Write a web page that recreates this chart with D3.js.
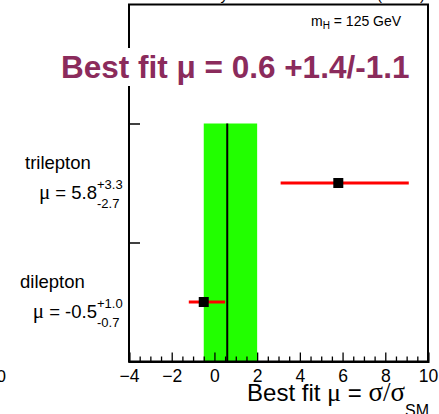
<!DOCTYPE html>
<html>
<head>
<meta charset="utf-8">
<script src="https://cdn.jsdelivr.net/npm/d3@7"></script>
<style>
  html, body { margin: 0; padding: 0; background: #fff; }
  svg { display: block; }
  text { font-family: "Liberation Sans", Arial, Helvetica, sans-serif; }
</style>
</head>
<body>
<svg id="chart" width="439" height="414"></svg>
<script>
// ---------------- data ----------------
const channels   = ["dilepton", "trilepton"];
const muValues   = [-0.5, 5.8];
const errUp      = [1.0, 3.3];
const errDown    = [0.7, 2.7];
const rowIndex   = [0.5, 1.5];           // row centre positions on the y scale
const bestFit    = 0.6;
const bestFitUp  = 1.4;
const bestFitDown= 1.1;
const xMajorTicks = [-4, -2, 0, 2, 4, 6, 8, 10];
const xMinorStep  = 0.5;
const yTicks      = [1, 2];
const titleText   = "Best fit \u03bc = 0.6 +1.4/-1.1";
const massLabel   = "125 GeV";

// ---------------- layout ----------------
const svg = d3.select("#chart");
const x = d3.scaleLinear().domain([-4, 10]).range([129, 428]);
const y = d3.scaleLinear().domain([0, 3]).range([361.5, 4.5]);
const fmt = d3.format("d");

// cropped text fragments at the very top (only descenders visible)
svg.append("text").attr("x", 228).attr("y", 0).attr("text-anchor", "end")
  .attr("font-size", 15).text("CMS Preliminary");
svg.append("text").attr("x", 425).attr("y", 0).attr("text-anchor", "end")
  .attr("font-size", 15).text("(8 TeV)");
// cropped tick label from neighbouring panel
svg.append("text").attr("x", 6).attr("y", 382).attr("text-anchor", "end")
  .attr("font-size", 17).text("10");

// green band: best-fit uncertainty
svg.append("rect")
  .attr("x", x(bestFit - bestFitDown))
  .attr("width", x(bestFit + bestFitUp) - x(bestFit - bestFitDown))
  .attr("y", y(2))
  .attr("height", y(0) - y(2))
  .attr("fill", "#22ff00");

// best-fit line
svg.append("line")
  .attr("x1", x(bestFit)).attr("x2", x(bestFit))
  .attr("y1", y(0)).attr("y2", y(2))
  .attr("stroke", "#000").attr("stroke-width", 2);

// error bars and points
const pts = channels.map((c, i) => ({c, mu: muValues[i], up: errUp[i], dn: errDown[i], r: rowIndex[i]}));
svg.selectAll("line.err").data(pts).enter().append("line").attr("class", "err")
  .attr("x1", d => x(d.mu - d.dn)).attr("x2", d => x(d.mu + d.up))
  .attr("y1", d => y(d.r)).attr("y2", d => y(d.r))
  .attr("stroke", "#ff0000").attr("stroke-width", 3);
const ms = 10;
svg.selectAll("rect.pt").data(pts).enter().append("rect").attr("class", "pt")
  .attr("x", d => x(d.mu) - ms / 2).attr("y", d => y(d.r) - ms / 2)
  .attr("width", ms).attr("height", ms).attr("fill", "#000");

// frame
svg.append("rect")
  .attr("x", x(-4)).attr("y", y(3))
  .attr("width", x(10) - x(-4)).attr("height", y(0) - y(3))
  .attr("fill", "none").attr("stroke", "#000").attr("stroke-width", 2);

// x axis: minor ticks
const minorTicks = d3.range(-4, 10 + 1e-9, xMinorStep).filter(v => xMajorTicks.indexOf(v) < 0);
svg.append("g").attr("transform", `translate(0,${y(0)})`)
  .call(d3.axisBottom(x).tickValues(minorTicks).tickSize(-5).tickFormat(""))
  .call(g => g.select(".domain").remove())
  .selectAll("line").attr("stroke-width", 1.3);

// x axis: major ticks + labels
const xg = svg.append("g").attr("transform", `translate(0,${y(0)})`)
  .call(d3.axisBottom(x).tickValues(xMajorTicks).tickSize(-9).tickPadding(8).tickFormat(fmt));
xg.select(".domain").attr("stroke-width", 2);
xg.selectAll("line").attr("stroke-width", 1.3);
xg.selectAll("text").attr("font-size", 17.5).attr("fill", "#000")
  .attr("font-family", "Liberation Sans, Arial, sans-serif").attr("dy", "0.72em");

// y axis ticks (left, pointing inward)
const yg = svg.append("g").attr("transform", `translate(${x(-4)},0)`)
  .call(d3.axisLeft(y).tickValues(yTicks).tickSize(-11).tickFormat(""));
yg.select(".domain").remove();
yg.selectAll("line").attr("stroke-width", 1.5);

// x axis title
const xt = svg.append("text").attr("x", 429).attr("y", 401)
  .attr("text-anchor", "end").attr("font-size", 24);
xt.append("tspan").text("Best fit ");
xt.append("tspan").attr("font-family", "Liberation Serif, Times New Roman, serif").attr("font-size", 26).text("\u03bc");
xt.append("tspan").text(" = ");
xt.append("tspan").attr("font-family", "Liberation Serif, Times New Roman, serif").attr("font-size", 27).text("\u03c3/\u03c3");
xt.append("tspan").attr("font-size", 16).attr("dy", 15).text("SM");

// mass label
const ml = svg.append("text").attr("x", 311).attr("y", 26).attr("font-size", 14);
ml.append("tspan").text("m");
ml.append("tspan").attr("font-size", 10).attr("dy", 3).text("H");
ml.append("tspan").attr("dy", -3).text(" = " + massLabel);

// channel labels
const supX = 97;
const nameX = {dilepton: 20, trilepton: 25};
pts.forEach(d => {
  const yc = y(d.r);
  svg.append("text").attr("x", nameX[d.c]).attr("y", yc - 14.5)
    .attr("font-size", 18.5).text(d.c);
  const t = svg.append("text").attr("x", supX).attr("y", yc + 15.5)
    .attr("text-anchor", "end").attr("font-size", 18.5);
  t.append("tspan").attr("font-family", "Liberation Serif, Times New Roman, serif").attr("font-size", 21).text("\u03bc");
  t.append("tspan").text(" = " + d3.format(".1f")(d.mu).replace("\u2212", "-"));
  svg.append("text").attr("x", supX).attr("y", yc + 6).attr("font-size", 13)
    .text("+" + d3.format(".1f")(d.up));
  svg.append("text").attr("x", supX).attr("y", yc + 25).attr("font-size", 13)
    .text("-" + d3.format(".1f")(d.dn));
});

// title with white background box
const title = svg.append("text").attr("x", 61).attr("y", 78)
  .attr("font-size", 31.5).attr("font-weight", "bold").attr("fill", "#8b2b5c")
  .text(titleText);
const bb = title.node().getBBox();
svg.insert("rect", () => title.node())
  .attr("x", bb.x - 2).attr("y", bb.y - 1)
  .attr("width", bb.width + 4).attr("height", bb.height + 2)
  .attr("fill", "#fff");
</script>
</body>
</html>
